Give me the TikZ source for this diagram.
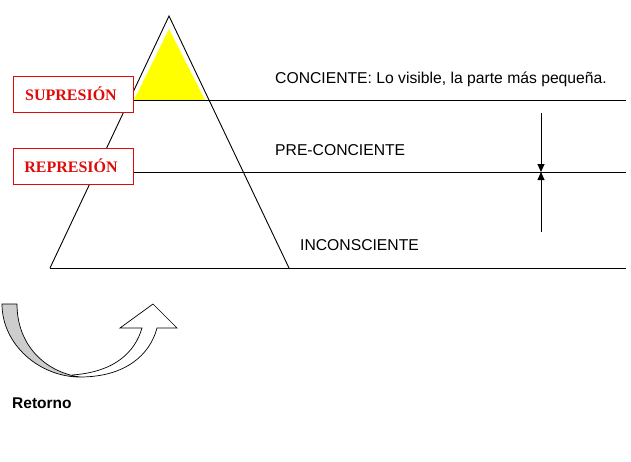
\documentclass[tikz,border=0pt]{standalone}
\usepackage{fontspec}
\setmainfont{Liberation Sans}
\newfontfamily\boxfont{Liberation Serif}
\usetikzlibrary{arrows.meta}
\definecolor{boxred}{RGB}{225,10,10}
\definecolor{tipyellow}{RGB}{255,255,0}
\definecolor{backgray}{RGB}{205,205,205}
\tikzset{
  thinline/.style={line width=0.9pt, black},
  labelbox/.style={draw=boxred, line width=0.8pt, fill=white, minimum width=120pt, minimum height=36pt, inner sep=0pt,
     text=boxred, font=\boxfont\bfseries\fontsize{16}{18}\selectfont},
  leveltext/.style={anchor=west, inner sep=0pt, font=\fontsize{15.7}{18}\selectfont},
  tipline/.style={line width=0.9pt, -{Triangle[length=8pt,width=7pt]}},
  arrowpart/.style={line width=0.7pt, draw=black, line join=miter}
}
\begin{document}
\begin{tikzpicture}[x=1pt,y=-1pt]
\useasboundingbox (0,0) rectangle (631,461);
% pyramid
\coordinate (apex) at (169,16);
\coordinate (bl) at (50,268);
\coordinate (br) at (289,268);
\draw[thinline] (bl) -- (apex) -- (br);
% yellow tip
\coordinate (ya) at (169,29);
\coordinate (yl) at (134,100);
\coordinate (yr) at (205,100);
\fill[tipyellow] (ya) -- (yl) -- (yr) -- cycle;
% level lines
\coordinate (l1e) at (626,100);
\coordinate (l2s) at (133,172);
\coordinate (l2e) at (626,172);
\coordinate (l3e) at (626,268);
\draw[thinline] (yl) -- (l1e);
\draw[thinline] (l2s) -- (l2e);
\draw[thinline] (bl) -- (l3e);
% boxes
\node[labelbox] (sup) at (73,94) {\hspace*{-4pt}SUPRESIÓN};
\node[labelbox] (rep) at (73,166) {\hspace*{-4pt}REPRESIÓN};
% level texts
\node[leveltext] (con) at (275,79) {CONCIENTE: Lo visible, la parte más pequeña.};
\node[leveltext] (pre) at (275,150) {PRE-CONCIENTE};
\node[leveltext] (inc) at (300,245) {INCONSCIENTE};
% arrows
\coordinate (atop) at (541,113);
\coordinate (amid) at (541,172);
\coordinate (abot) at (541,232);
\draw[tipline] (atop) -- (amid);
\draw[tipline] (abot) -- (amid);
% return arrow
\fill[white] (80,377) .. controls (125,377) and (150,355) .. (157,328) -- (177,328) -- (153,304) -- (120,328) -- (142,328) .. controls (135,352) and (115,372) .. (78,376) -- cycle;
\draw[arrowpart] (80,377) .. controls (125,377) and (150,355) .. (157,328) -- (177,328) -- (153,304) -- (120,328) -- (142,328) .. controls (135,352) and (115,372) .. (72,375);
\draw[arrowpart, fill=backgray] (2,304) .. controls (2,345) and (40,377) .. (80,377) .. controls (45,372) and (17,345) .. (17,304) -- cycle;
\node[anchor=west, inner sep=0pt, font=\bfseries\fontsize{15.5}{18}\selectfont] (ret) at (12,403) {Retorno};
\end{tikzpicture}
\end{document}
